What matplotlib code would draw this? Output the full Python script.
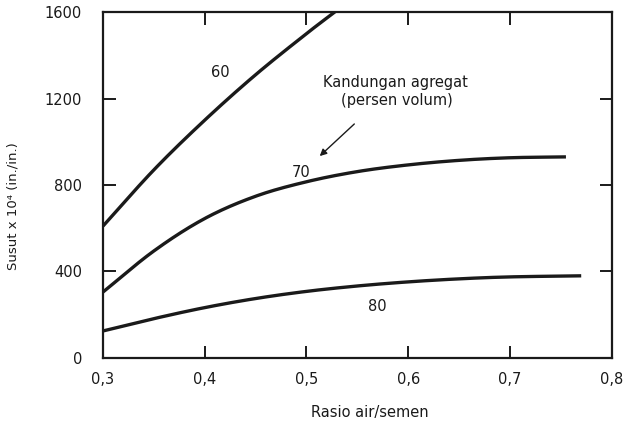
import numpy as np
from matplotlib import pyplot as plt

plt.rcParams["font.family"] = ["DejaVu Sans"]

# curve data (x = w/c ratio, y = shrinkage)
rasio_60 = [0.30, 0.35, 0.40, 0.45, 0.50, 0.53]
susut_60 = [610, 870, 1100, 1310, 1500, 1608]

rasio_70 = [0.30, 0.35, 0.40, 0.45, 0.50, 0.55, 0.60, 0.65, 0.70, 0.755]
susut_70 = [305, 495, 645, 748, 815, 862, 893, 914, 926, 930]

rasio_80 = [0.30, 0.35, 0.40, 0.45, 0.50, 0.55, 0.60, 0.65, 0.70, 0.77]
susut_80 = [125, 182, 233, 275, 308, 333, 352, 366, 375, 380]

x_ticks = [0.3, 0.4, 0.5, 0.6, 0.7, 0.8]
x_tick_labels = ["0,3", "0,4", "0,5", "0,6", "0,7", "0,8"]
y_ticks = [0, 400, 800, 1200, 1600]

INK = "#1a1a1a"


def smooth(xs, ys, n=30):
    # catmull-rom spline through the read points
    pts = np.column_stack([xs, ys]).astype(float)
    pts = np.vstack([2 * pts[0] - pts[1], pts, 2 * pts[-1] - pts[-2]])
    out = []
    t = np.linspace(0, 1, n, endpoint=False)[:, None]
    for i in range(1, len(pts) - 2):
        p0, p1, p2, p3 = pts[i - 1], pts[i], pts[i + 1], pts[i + 2]
        seg = 0.5 * (2 * p1 + (-p0 + p2) * t
                     + (2 * p0 - 5 * p1 + 4 * p2 - p3) * t ** 2
                     + (-p0 + 3 * p1 - 3 * p2 + p3) * t ** 3)
        out.append(seg)
    out.append(pts[-2][None, :])
    out = np.vstack(out)
    return out[:, 0], out[:, 1]


fig = plt.figure(figsize=(6.3, 4.23), dpi=100)
ax = fig.add_axes([0.1635, 0.1537, 0.8075, 0.8179])

for xs, ys in [(rasio_60, susut_60), (rasio_70, susut_70), (rasio_80, susut_80)]:
    xx, yy = smooth(xs, ys)
    ax.plot(xx, yy, color=INK, linewidth=2.4, solid_capstyle="butt")

ax.set_xlim(0.3, 0.8)
ax.set_ylim(0, 1600)
ax.set_xticks(x_ticks)
ax.set_xticklabels(x_tick_labels)
ax.set_yticks(y_ticks)

ax.tick_params(direction="in", length=9, width=1.4, colors=INK, labelsize=10.5,
               top=True, right=True, labeltop=False, labelright=False)
ax.tick_params(axis="x", pad=10)
ax.tick_params(axis="y", pad=15)
for s in ax.spines.values():
    s.set_linewidth(1.6)
    s.set_color(INK)

ax.text(0.415, 1322, "60", ha="center", va="center", fontsize=10.5, color=INK)
ax.text(0.495, 860, "70", ha="center", va="center", fontsize=10.5, color=INK)
ax.text(0.57, 236, "80", ha="center", va="center", fontsize=10.5, color=INK)
ax.text(0.587, 1272, "Kandungan agregat", ha="center", va="center", fontsize=10.5, color=INK)
ax.text(0.589, 1193, "(persen volum)", ha="center", va="center", fontsize=10.5, color=INK)
ax.annotate("", xy=(0.511, 925), xytext=(0.549, 1091),
            arrowprops=dict(arrowstyle="-|>", color=INK, lw=1.0, mutation_scale=10))

ax.set_xlabel("Rasio air/semen", fontsize=10.5, color=INK)
ax.xaxis.set_label_coords(0.525, -0.135)
ax.set_ylabel("Susut x 10\u2074 (in./in.)", fontsize=9.5, color=INK)
ax.yaxis.set_label_coords(-0.165, 0.44)

fig.savefig("out.png", dpi=100)
